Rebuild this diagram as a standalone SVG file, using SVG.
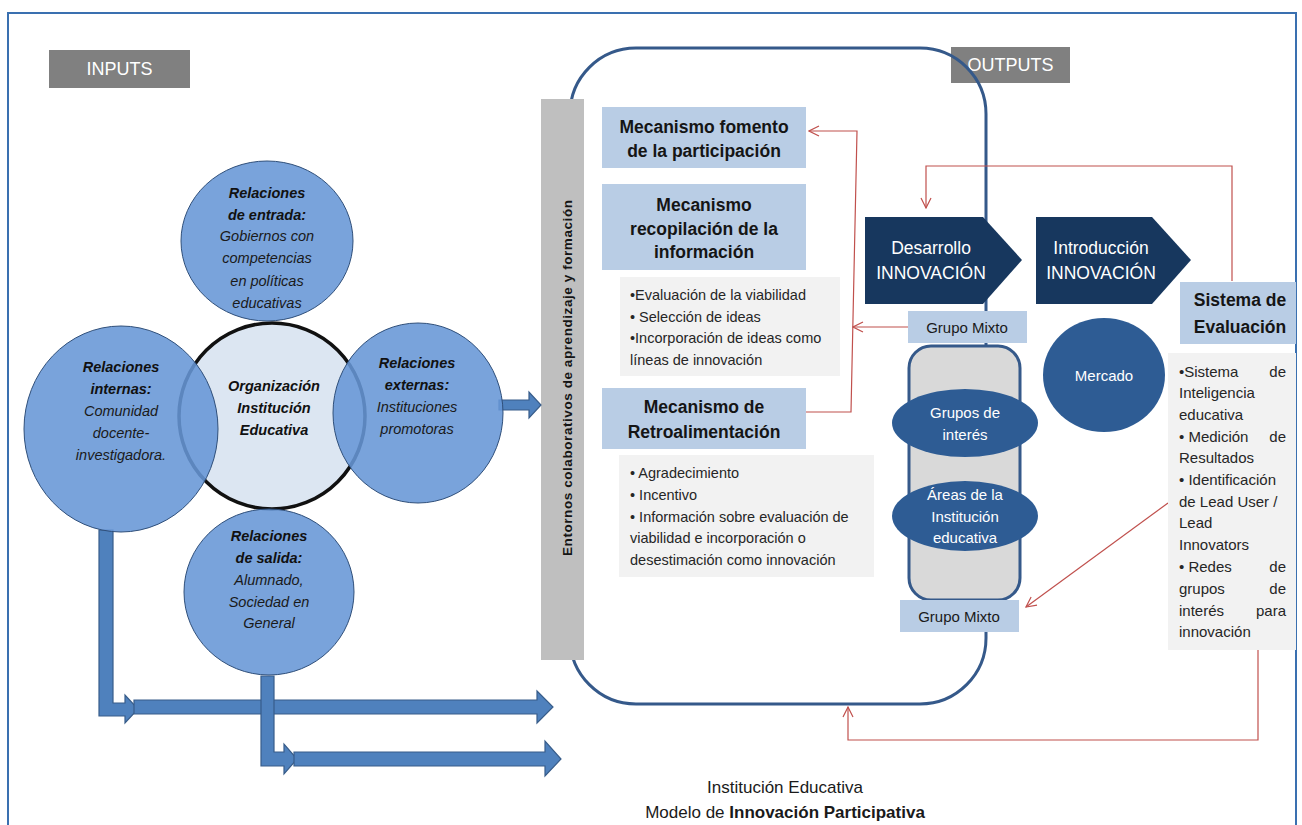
<svg xmlns="http://www.w3.org/2000/svg" width="1302" height="825" viewBox="0 0 1302 825">
<style>
.lbl{font-family:"Liberation Sans",Arial,sans-serif;}
.cb{font-family:"Liberation Sans",Arial,sans-serif;font-size:14.5px;font-weight:bold;font-style:italic;fill:#111;text-anchor:middle;}
.ci{font-family:"Liberation Sans",Arial,sans-serif;font-size:14.5px;font-style:italic;fill:#1a1a1a;text-anchor:middle;}
.mt{font-family:"Liberation Sans",Arial,sans-serif;font-size:17.5px;font-weight:bold;fill:#151515;text-anchor:middle;}
.bt{font-family:"Liberation Sans",Arial,sans-serif;font-size:14.5px;fill:#262626;}
.st{font-family:"Liberation Sans",Arial,sans-serif;font-size:15px;fill:#262626;}
.wt{font-family:"Liberation Sans",Arial,sans-serif;fill:#fff;text-anchor:middle;}
.lb{fill:#b9cde5;}
.gb{fill:#f2f2f2;}
.bc{fill:#6796d6;fill-opacity:0.88;stroke:#2f4f7a;stroke-width:1;}
.ba{fill:#4f81bd;stroke:#385d8a;stroke-width:1.2;}
.nv{fill:#17375e;}
.mb{fill:#2e5c94;}
.red{fill:none;stroke:#c0504d;stroke-width:1.2;}
</style>
<defs>
<marker id="ra" viewBox="0 0 12 12" refX="11" refY="6" markerWidth="12" markerHeight="12" orient="auto" markerUnits="userSpaceOnUse">
<path d="M1,1 L11,6 L1,11" fill="none" stroke="#c0504d" stroke-width="1.2"/>
</marker>
</defs>
<rect x="0" y="0" width="1302" height="825" fill="#fff"/>
<rect x="8" y="13" width="1288" height="830" fill="none" stroke="#3a70b0" stroke-width="2"/>

<g id="inputs">
<rect x="49" y="50" width="141" height="38" fill="#808080"/>
<text class="wt" x="119.5" y="75" font-size="18">INPUTS</text>
</g>
<g id="outputs">
<rect x="951" y="47" width="119" height="36" fill="#808080"/>
<text class="wt" x="1010.5" y="71" font-size="18">OUTPUTS</text>
</g>

<g id="frame-institucion">
<rect x="570" y="48" width="416" height="656" rx="66" ry="66" fill="none" stroke="#35598a" stroke-width="3"/>
</g>

<g id="entornos">
<rect x="541" y="99" width="43" height="561" fill="#bfbfbf"/>
<text class="lbl" x="0" y="0" font-size="13.5" font-weight="bold" fill="#151515" text-anchor="middle" textLength="356" lengthAdjust="spacing" transform="translate(572,378) rotate(-90)">Entornos colaborativos  de aprendizaje y formación</text>
</g>

<g id="connectors">
<polygon class="ba" points="499,400 529,400 529,392 541,405 529,418 529,410 499,410"/>
<polygon class="ba" points="99,530 113,530 113,703 125,703 125,695 138,709 125,723 125,716 99,716"/>
<polygon class="ba" points="134,700 537,700 537,691 553,707 537,723 537,714 134,714"/>
<polygon class="ba" points="261,676 274,676 274,752 284,752 284,744 297,759 284,774 284,766 261,766"/>
<polygon class="ba" points="294,752 545,752 545,741 561,759 545,776 545,766 294,766"/>
<polyline class="red" points="806,412 851,412 857,131 809,131" marker-end="url(#ra)"/>
<polyline class="red" points="908,327 853,327" marker-end="url(#ra)"/>
<polyline class="red" points="1232,281 1232,166 926,166 926,208" marker-end="url(#ra)"/>
<polyline class="red" points="1168,503 1026,607" marker-end="url(#ra)"/>
<polyline class="red" points="1258,650 1258,740 848,740 848,707" marker-end="url(#ra)"/>
</g>

<g id="organizacion">
<ellipse cx="272" cy="416" rx="93" ry="93" fill="#dce6f2" stroke="#111" stroke-width="3.5"/>
</g>
<g id="rel-entrada">
<ellipse class="bc" cx="267" cy="241" rx="86" ry="80"/>
<text class="cb" x="267" y="198">Relaciones</text>
<text class="cb" x="267" y="220">de entrada:</text>
<text class="ci" x="267" y="241">Gobiernos con</text>
<text class="ci" x="267" y="263">competencias</text>
<text class="ci" x="267" y="286">en políticas</text>
<text class="ci" x="267" y="308">educativas</text>
</g>
<g id="rel-internas">
<ellipse class="bc" cx="121" cy="429" rx="97" ry="103"/>
<text class="cb" x="121" y="372">Relaciones</text>
<text class="cb" x="121" y="394">internas:</text>
<text class="ci" x="121" y="416">Comunidad</text>
<text class="ci" x="121" y="438">docente-</text>
<text class="ci" x="121" y="460">investigadora.</text>
</g>
<g id="rel-externas">
<ellipse class="bc" cx="418" cy="413" rx="85" ry="90"/>
<text class="cb" x="417" y="368">Relaciones</text>
<text class="cb" x="417" y="390">externas:</text>
<text class="ci" x="417" y="412">Instituciones</text>
<text class="ci" x="417" y="434">promotoras</text>
</g>
<g id="rel-salida">
<ellipse class="bc" cx="269" cy="592" rx="85" ry="83"/>
<text class="cb" x="269" y="541">Relaciones</text>
<text class="cb" x="269" y="563">de salida:</text>
<text class="ci" x="269" y="585">Alumnado,</text>
<text class="ci" x="269" y="607">Sociedad en</text>
<text class="ci" x="269" y="628">General</text>
</g>
<g id="organizacion-text">
<text class="cb" x="274" y="391">Organización</text>
<text class="cb" x="274" y="413">Institución</text>
<text class="cb" x="274" y="435">Educativa</text>
</g>

<g id="mec-fomento">
<rect class="lb" x="602" y="107" width="204" height="61"/>
<text class="mt" x="704" y="133">Mecanismo fomento</text>
<text class="mt" x="704" y="157">de la participación</text>
</g>
<g id="mec-recopilacion">
<rect class="lb" x="602" y="184" width="204" height="86"/>
<text class="mt" x="704" y="211">Mecanismo</text>
<text class="mt" x="704" y="235">recopilación de la</text>
<text class="mt" x="704" y="258">información</text>
</g>
<g id="recopilacion-items">
<rect class="gb" x="620" y="277" width="220" height="99"/>
<text class="bt" x="630" y="300">•Evaluación de la viabilidad</text>
<text class="bt" x="630" y="322">• Selección de ideas</text>
<text class="bt" x="630" y="343">•Incorporación de ideas como</text>
<text class="bt" x="630" y="365">líneas de innovación</text>
</g>
<g id="mec-retro">
<rect class="lb" x="602" y="388" width="204" height="61"/>
<text class="mt" x="704" y="413">Mecanismo de</text>
<text class="mt" x="704" y="438">Retroalimentación</text>
</g>
<g id="retro-items">
<rect class="gb" x="619" y="455" width="255" height="122"/>
<text class="bt" x="630" y="478">• Agradecimiento</text>
<text class="bt" x="630" y="500">• Incentivo</text>
<text class="bt" x="630" y="522">• Información sobre evaluación de</text>
<text class="bt" x="630" y="543">viabilidad e incorporación o</text>
<text class="bt" x="630" y="565">desestimación como innovación</text>
</g>

<g id="desarrollo">
<polygon class="nv" points="865,217 983,217 1022,260 983,304 865,304"/>
<text class="wt" x="931" y="254" font-size="17.5">Desarrollo</text>
<text class="wt" x="931" y="279" font-size="17.5">INNOVACIÓN</text>
</g>
<g id="introduccion">
<polygon class="nv" points="1036,217 1152,217 1191,260 1152,304 1036,304"/>
<text class="wt" x="1101" y="254" font-size="17.5">Introducción</text>
<text class="wt" x="1101" y="279" font-size="17.5">INNOVACIÓN</text>
</g>

<g id="grupo-mixto-top">
<rect class="lb" x="908" y="311" width="119" height="32"/>
<text class="lbl" x="967" y="333" font-size="15" fill="#1a1a1a" text-anchor="middle">Grupo Mixto</text>
</g>
<g id="grupo-contenedor">
<rect x="909" y="346" width="111" height="254" rx="22" ry="22" fill="#d9d9d9" stroke="#35598a" stroke-width="3"/>
</g>
<g id="grupos-interes">
<ellipse class="mb" cx="965" cy="423" rx="73" ry="34"/>
<text class="wt" x="965" y="418" font-size="15">Grupos de</text>
<text class="wt" x="965" y="440" font-size="15">interés</text>
</g>
<g id="areas">
<ellipse class="mb" cx="965" cy="516" rx="73" ry="35"/>
<text class="wt" x="965" y="500" font-size="15">Áreas de la</text>
<text class="wt" x="965" y="522" font-size="15">Institución</text>
<text class="wt" x="965" y="543" font-size="15">educativa</text>
</g>
<g id="grupo-mixto-bottom">
<rect class="lb" x="900" y="600" width="119" height="32"/>
<text class="lbl" x="959" y="622" font-size="15" fill="#1a1a1a" text-anchor="middle">Grupo Mixto</text>
</g>
<g id="mercado">
<ellipse class="mb" cx="1104" cy="375" rx="61" ry="57"/>
<text class="wt" x="1104" y="381" font-size="15">Mercado</text>
</g>

<g id="sistema-evaluacion">
<rect class="lb" x="1180" y="282" width="116" height="62"/>
<text class="mt" x="1240" y="306">Sistema de</text>
<text class="mt" x="1240" y="333">Evaluación</text>
</g>
<g id="sistema-items">
<rect class="gb" x="1168" y="353" width="128" height="297"/>
<text class="st" x="1179" y="377">•Sistema</text><text class="st" x="1286" y="377" text-anchor="end">de</text>
<text class="st" x="1179" y="398">Inteligencia</text>
<text class="st" x="1179" y="420">educativa</text>
<text class="st" x="1179" y="442">• Medición</text><text class="st" x="1286" y="442" text-anchor="end">de</text>
<text class="st" x="1179" y="463">Resultados</text>
<text class="st" x="1179" y="485">• Identificación</text>
<text class="st" x="1179" y="507">de Lead User /</text>
<text class="st" x="1179" y="528">Lead</text>
<text class="st" x="1179" y="550">Innovators</text>
<text class="st" x="1179" y="572">• Redes</text><text class="st" x="1286" y="572" text-anchor="end">de</text>
<text class="st" x="1179" y="594">grupos</text><text class="st" x="1286" y="594" text-anchor="end">de</text>
<text class="st" x="1179" y="616">interés</text><text class="st" x="1286" y="616" text-anchor="end">para</text>
<text class="st" x="1179" y="637">innovación</text>
</g>

<g id="titulo">
<text class="lbl" x="785" y="793" font-size="17" fill="#1a1a1a" text-anchor="middle">Institución Educativa</text>
<text class="lbl" x="785" y="818" font-size="17" fill="#1a1a1a" text-anchor="middle">Modelo de <tspan font-weight="bold">Innovación Participativa</tspan></text>
</g>
</svg>
